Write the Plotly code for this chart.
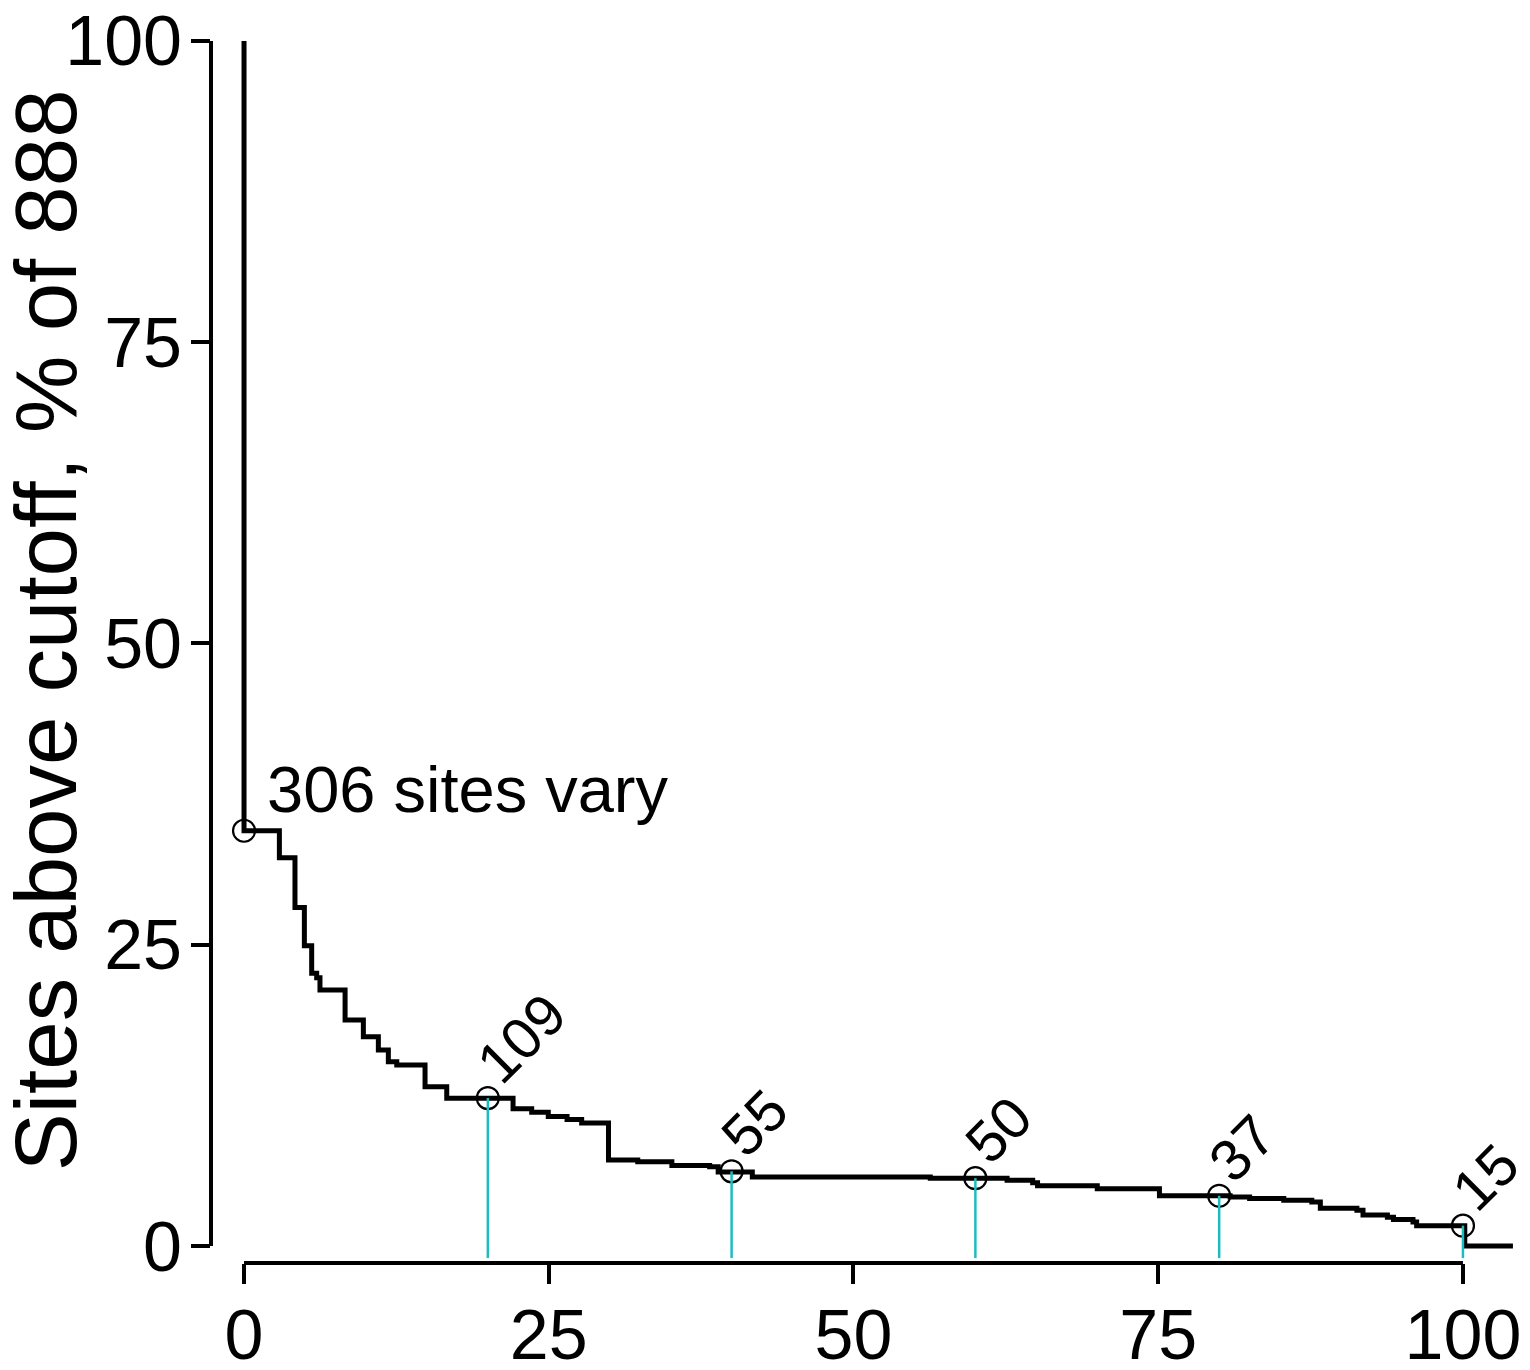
import plotly.graph_objects as go

# share of 888 sites above each cutoff (step curve)
step_x = [0, 0, 2.9, 4.18, 4.95, 5.55, 5.96, 6.23, 8.29, 9.79, 11.02, 11.84, 12.53,
          14.85, 16.63, 22.07, 23.6, 24.96, 26.5, 27.7, 29.9, 32.3, 35.1, 38.2, 38.9,
          41.7, 56.3, 62.6, 64.7, 65.1, 70.0, 75.1, 80.9, 82.5, 85.3, 87.6, 88.3,
          91.3, 91.8, 93.8, 94.3, 95.9, 96.2, 100.15, 104.1]
step_y = [100, 34.46, 32.22, 28.1, 24.92, 22.63, 22.27, 21.24, 18.76, 17.37, 16.27, 15.3, 15.02,
          13.22, 12.27, 11.4, 11.1, 10.75, 10.5, 10.2, 7.14, 7.0, 6.68, 6.58, 6.15,
          5.73, 5.63, 5.45, 5.25, 5.0, 4.75, 4.17, 4.07, 3.95, 3.8, 3.65, 3.13,
          2.96, 2.57, 2.38, 2.2, 2.0, 1.69, 0, 0]

total_sites = 888
cutoffs = [0, 20, 40, 60, 80, 100]
site_counts = [306, 109, 55, 50, 37, 15]
pct = [c / total_sites * 100 for c in site_counts]

x_ticks = [0, 25, 50, 75, 100]
y_ticks = [0, 25, 50, 75, 100]

FONT = "Liberation Sans, Arial, Helvetica, sans-serif"
CYAN = "#1cbcc0"

fig = go.Figure()

fig.add_trace(go.Scatter(
    x=step_x, y=step_y, mode="lines", line_shape="hv",
    line=dict(color="black", width=5), hoverinfo="skip",
))

fig.add_trace(go.Scatter(
    x=cutoffs, y=pct, mode="markers",
    marker=dict(symbol="circle-open", size=22, color="black", line=dict(width=2.2)),
    cliponaxis=False,
))

# cyan drop lines from each cutoff (except the first) down to the axis
drop_x, drop_y = [], []
for cx, p in zip(cutoffs[1:], pct[1:]):
    drop_x += [cx, cx, None]
    drop_y += [p, -1.0, None]
fig.add_trace(go.Scatter(
    x=drop_x, y=drop_y, mode="lines",
    line=dict(color=CYAN, width=2.5), hoverinfo="skip",
))

# labels
fig.add_annotation(
    x=cutoffs[0], y=pct[0], text=f"{site_counts[0]} sites vary",
    showarrow=False, xanchor="left", yanchor="bottom", xshift=21, yshift=3,
    font=dict(size=65, color="black", family=FONT),
)
for cx, p, n in zip(cutoffs[1:], pct[1:], site_counts[1:]):
    fig.add_annotation(
        x=cx, y=p, text=str(n), textangle=-45, showarrow=False,
        xanchor="left", yanchor="bottom", xshift=-26, yshift=0,
        font=dict(size=58, color="black", family=FONT),
    )

# y title
fig.add_annotation(
    xref="paper", x=0, y=51.1, text="Sites above cutoff, % of 888",
    textangle=-90, showarrow=False, xanchor="center", yanchor="middle",
    xshift=-166, font=dict(size=87, color="black", family=FONT),
)

# R-style axis lines spanning only the tick range
fig.add_shape(type="line", xref="x", yref="paper", x0=min(x_ticks), x1=max(x_ticks),
              y0=0, y1=0, line=dict(color="black", width=4))
fig.add_shape(type="line", xref="paper", yref="y", x0=0, x1=0,
              y0=min(y_ticks), y1=max(y_ticks), line=dict(color="black", width=4))

fig.update_xaxes(
    range=[-2.71, 104.27], tickvals=x_ticks, ticks="outside", ticklen=20, tickwidth=4,
    tickcolor="black", showline=False, showgrid=False, zeroline=False,
    tickfont=dict(size=70, color="black", family=FONT), automargin=False,
    ticklabelstandoff=-9, ticklabeloverflow="allow",
)
fig.update_yaxes(
    range=[-1.41, 100.33], tickvals=y_ticks, ticks="outside", ticklen=19, tickwidth=4,
    tickcolor="black", showline=False, showgrid=False, zeroline=False,
    tickfont=dict(size=70, color="black", family=FONT), automargin=False,
    ticklabelstandoff=-5, ticklabeloverflow="allow",
)

# page body adds an 8px offset, so margins are shifted to keep the plot area in place
fig.update_layout(
    width=1530, height=1370,
    margin=dict(l=203, r=23, t=29, b=115, autoexpand=False),
    plot_bgcolor="white", paper_bgcolor="white",
    showlegend=False,
)

fig.write_html("out.html")
